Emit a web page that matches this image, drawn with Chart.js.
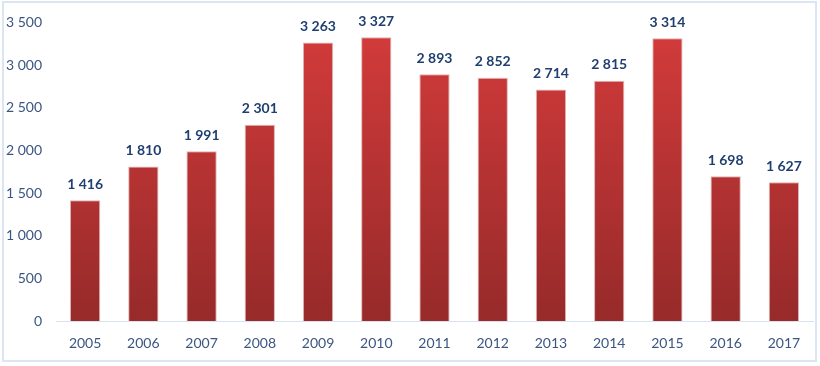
<!DOCTYPE html>
<html>
<head>
<meta charset="utf-8">
<script src="https://cdn.jsdelivr.net/npm/chart.js@4/dist/chart.umd.min.js"></script>
<style>
html,body{margin:0;padding:0;background:#fff;}
#wrap{position:relative;width:820px;height:366px;}
#frame{position:absolute;left:2px;top:1px;width:811px;height:357px;border:2px solid #dce6f2;box-sizing:content-box;}
canvas{position:absolute;left:0;top:0;}
</style>
</head>
<body>
<div id="wrap">
<div id="frame"></div>
<canvas id="c" width="820" height="366"></canvas>
</div>
<script>
const years = ['2005','2006','2007','2008','2009','2010','2011','2012','2013','2014','2015','2016','2017'];
const values = [1416,1810,1991,2301,3263,3327,2893,2852,2714,2815,3314,1698,1627];
const yMax = 3500;
const yStep = 500;

function fmt(v){ return String(v).replace(/\B(?=(\d{3})+(?!\d))/g,' '); }

const labelPlugin = {
  id:'valueLabels',
  afterDatasetsDraw(chart){
    const ctx = chart.ctx;
    const meta = chart.getDatasetMeta(0);
    ctx.save();
    ctx.font = 'bold 14px Lato';
    ctx.fillStyle = '#1f3f70';
    ctx.textAlign = 'center';
    ctx.textBaseline = 'middle';
    meta.data.forEach((el,i)=>{
      ctx.fillText(fmt(values[i]), el.x, el.y - 16);
    });
    ctx.restore();
  }
};

new Chart(document.getElementById('c'),{
  type:'bar',
  data:{
    labels: years,
    datasets:[{
      data: values,
      backgroundColor(context){
        const chart = context.chart;
        const area = chart.chartArea;
        if(!area) return '#c03030';
        const g = chart.ctx.createLinearGradient(0, area.top, 0, area.bottom);
        g.addColorStop(0,'#d43b3b');
        g.addColorStop(1,'#972a2a');
        return g;
      },
      borderColor:'rgba(160,40,40,0.35)',
      borderWidth:1,
      categoryPercentage:1,
      barPercentage:0.52
    }]
  },
  options:{
    responsive:false,
    animation:false,
    layout:{padding:{left:0,right:7,top:21,bottom:0}},
    plugins:{legend:{display:false},tooltip:{enabled:false}},
    scales:{
      x:{
        grid:{display:false,drawTicks:false},
        border:{display:true,color:'#d9e2ef',width:1},
        ticks:{color:'#3b5683',font:{family:'Lato',size:14},padding:14},
        afterFit(s){ s.height = 45; }
      },
      y:{
        min:0,max:yMax,
        grid:{display:false,drawTicks:false},
        border:{display:false},
        ticks:{stepSize:yStep,color:'#3b5683',font:{family:'Lato',size:14},padding:14,callback:(v)=>fmt(v)},
        afterFit(s){ s.width = 56; }
      }
    }
  },
  plugins:[labelPlugin]
});
</script>
</body>
</html>
